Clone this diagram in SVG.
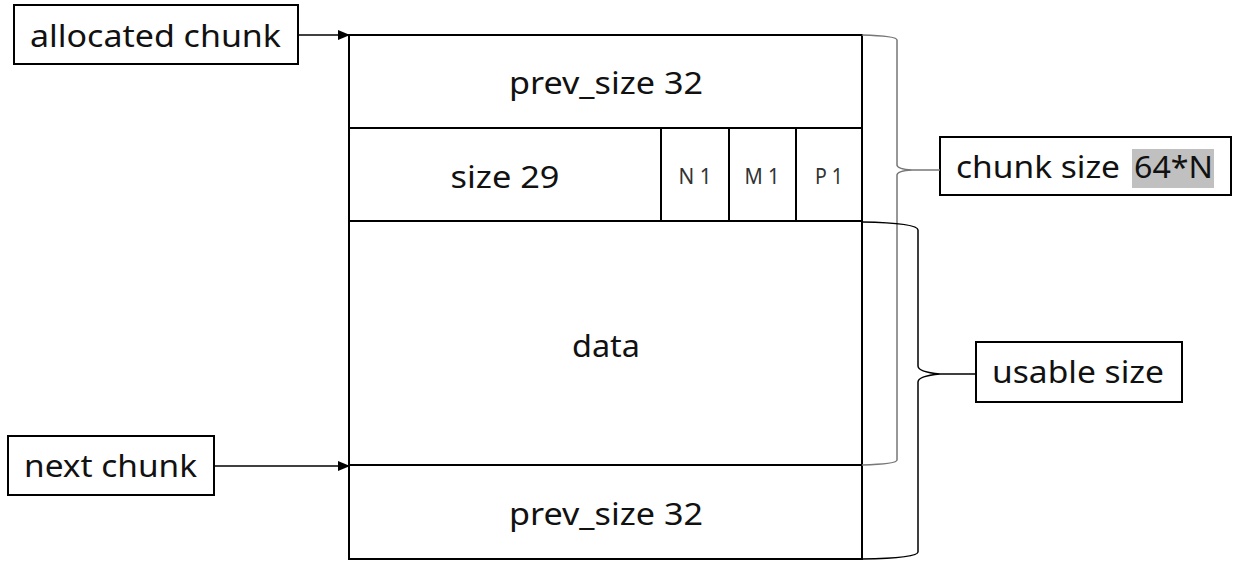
<svg xmlns="http://www.w3.org/2000/svg" width="1237" height="561" viewBox="0 0 1237 561">
<style>
.box{fill:#fff;stroke:#000;stroke-width:2}
.ln{stroke:#000;stroke-width:2;fill:none}
.t{font-family:"Noto Sans","Open Sans",sans-serif;font-size:31px;fill:#111;text-anchor:middle;dominant-baseline:central}
.l{text-anchor:start}
.s{font-family:"Noto Sans","Open Sans",sans-serif;font-size:21px;fill:#333;text-anchor:middle;dominant-baseline:central}
.br{fill:none;stroke-width:1.5}
</style>
<defs>
<marker id="ah" markerWidth="12" markerHeight="10" refX="11" refY="5" orient="auto" markerUnits="userSpaceOnUse">
<path d="M0,0 L12,5 L0,10 Z" fill="#000"/>
</marker>
</defs>
<rect width="1237" height="561" fill="#fff"/>
<g id="chunk">
<rect class="box" x="349" y="35" width="513" height="524"/>
<line class="ln" x1="349" y1="128" x2="862" y2="128"/>
<line class="ln" x1="349" y1="221" x2="862" y2="221"/>
<line class="ln" x1="349" y1="465" x2="862" y2="465"/>
<line class="ln" x1="661" y1="128" x2="661" y2="221"/>
<line class="ln" x1="729" y1="128" x2="729" y2="221"/>
<line class="ln" x1="796" y1="128" x2="796" y2="221"/>
<text class="t" x="606" y="82" textLength="194" lengthAdjust="spacingAndGlyphs">prev_size 32</text>
<text class="t" x="505" y="176" textLength="109" lengthAdjust="spacingAndGlyphs">size 29</text>
<text class="s" x="695" y="176" textLength="33" lengthAdjust="spacingAndGlyphs">N 1</text>
<text class="s" x="762" y="176" textLength="35" lengthAdjust="spacingAndGlyphs">M 1</text>
<text class="s" x="829" y="176" textLength="28" lengthAdjust="spacingAndGlyphs">P 1</text>
<text class="t" x="606" y="345" textLength="68" lengthAdjust="spacingAndGlyphs">data</text>
<text class="t" x="606" y="513" textLength="194" lengthAdjust="spacingAndGlyphs">prev_size 32</text>
</g>
<g id="allocated">
<rect class="box" x="14" y="5" width="284" height="59"/>
<text class="t" x="155.5" y="35" textLength="251" lengthAdjust="spacingAndGlyphs">allocated chunk</text>
</g>
<g id="next">
<rect class="box" x="8" y="436" width="206" height="59"/>
<text class="t" x="110.5" y="465" textLength="173" lengthAdjust="spacingAndGlyphs">next chunk</text>
</g>
<g id="chunksize">
<rect class="box" x="940" y="137" width="291" height="58"/>
<rect x="1132" y="149" width="82" height="39" fill="#c0c0c0"/>
<text class="t l" x="956" y="166" textLength="164" lengthAdjust="spacingAndGlyphs">chunk size</text>
<text class="t l" x="1134" y="166" textLength="79" lengthAdjust="spacingAndGlyphs">64*N</text>
</g>
<g id="usable">
<rect class="box" x="976" y="342" width="206" height="60"/>
<text class="t" x="1078" y="371" textLength="172" lengthAdjust="spacingAndGlyphs">usable size</text>
</g>
<g id="connectors">
<line class="ln" style="stroke-width:1.5" x1="298" y1="35" x2="349" y2="35" marker-end="url(#ah)"/>
<line class="ln" style="stroke-width:1.5" x1="214" y1="466" x2="349" y2="466" marker-end="url(#ah)"/>
<path class="br" stroke="#777" d="M862,35 Q897,36 897,40 L897,165 Q897,169 912,170 L940,170 M912,170 Q897,171 897,175 L897,460 Q897,464 862,465"/>
<path class="br" stroke="#000" d="M862,222 Q918,223 918,230 L918,366 Q918,372 940,374 L976,374 M940,374 Q918,376 918,382 L918,552 Q918,558 862,559"/>
</g>
</svg>
